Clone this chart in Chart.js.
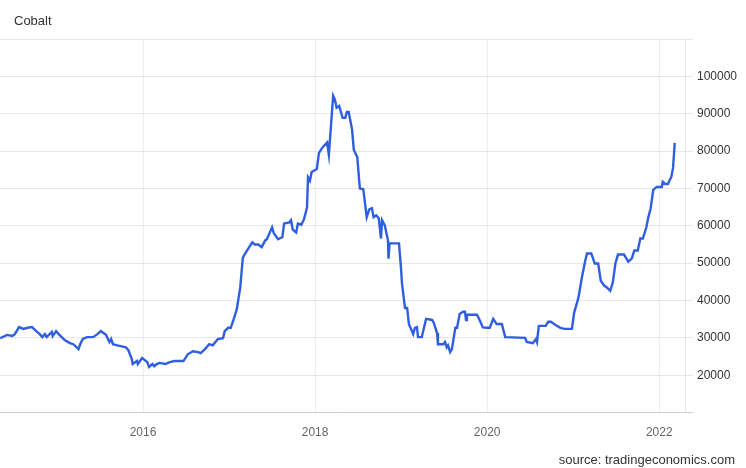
<!DOCTYPE html>
<html>
<head>
<meta charset="utf-8">
<script src="https://cdn.jsdelivr.net/npm/chart.js@4.4.1/dist/chart.umd.min.js"></script>
<style>
  html, body { margin: 0; padding: 0; background: #fff; }
  #wrap { position: relative; width: 746px; height: 468px; font-family: "Liberation Sans", Arial, sans-serif; }
  #title { position: absolute; left: 14px; top: 13px; font-size: 13px; color: #333; }
  #source { position: absolute; right: 11px; top: 452px; font-size: 13px; color: #333; }
</style>
</head>
<body>
<div id="wrap">
  <canvas id="chart" width="746" height="468"></canvas>
  <div id="title">Cobalt</div>
  <div id="source">source: tradingeconomics.com</div>
</div>
<script>
// cobalt price, USD/t; dates as decimal years
const dates = [
  2014.34, 2014.42, 2014.48, 2014.51, 2014.56, 2014.61, 2014.66, 2014.71, 2014.76, 2014.80,
  2014.83, 2014.86, 2014.88, 2014.94, 2014.95, 2014.99, 2015.02, 2015.09, 2015.15, 2015.19,
  2015.25, 2015.27, 2015.30, 2015.35, 2015.42, 2015.47, 2015.51, 2015.57, 2015.61, 2015.63,
  2015.65, 2015.70, 2015.74, 2015.80, 2015.83, 2015.87, 2015.88, 2015.93, 2015.94, 2015.99,
  2016.05, 2016.07, 2016.11, 2016.13, 2016.16, 2016.19, 2016.26, 2016.31, 2016.37, 2016.43,
  2016.47, 2016.52, 2016.58, 2016.64, 2016.67, 2016.72, 2016.77, 2016.81, 2016.87, 2016.93,
  2016.95, 2016.99, 2017.02, 2017.06, 2017.09, 2017.13, 2017.16, 2017.21, 2017.27, 2017.30,
  2017.34, 2017.38, 2017.42, 2017.44, 2017.50, 2017.52, 2017.57, 2017.62, 2017.64, 2017.70,
  2017.72, 2017.74, 2017.78, 2017.80, 2017.84, 2017.87, 2017.906, 2017.918, 2017.94, 2017.96,
  2018.02, 2018.045, 2018.09, 2018.14, 2018.16, 2018.21, 2018.23, 2018.25, 2018.28, 2018.32,
  2018.35, 2018.37, 2018.39, 2018.43, 2018.45, 2018.49, 2018.52, 2018.56, 2018.60, 2018.63,
  2018.66, 2018.68, 2018.71, 2018.74, 2018.766, 2018.778, 2018.81, 2018.847, 2018.853, 2018.865,
  2018.975, 2018.998, 2019.01, 2019.045, 2019.07, 2019.09, 2019.14, 2019.16, 2019.184, 2019.196,
  2019.24, 2019.29, 2019.36, 2019.38, 2019.417, 2019.428, 2019.49, 2019.51, 2019.53, 2019.545,
  2019.57, 2019.59, 2019.63, 2019.65, 2019.68, 2019.72, 2019.742, 2019.754, 2019.765, 2019.88,
  2019.90, 2019.95, 2020.00, 2020.03, 2020.07, 2020.11, 2020.17, 2020.21, 2020.44, 2020.46,
  2020.53, 2020.567, 2020.579, 2020.60, 2020.68, 2020.71, 2020.74, 2020.79, 2020.85, 2020.90,
  2020.985, 2021.01, 2021.06, 2021.10, 2021.14, 2021.16, 2021.21, 2021.25, 2021.29, 2021.32,
  2021.36, 2021.39, 2021.43, 2021.46, 2021.49, 2021.52, 2021.59, 2021.64, 2021.68, 2021.71,
  2021.75, 2021.78, 2021.81, 2021.85, 2021.87, 2021.90, 2021.93, 2021.97, 2022.03, 2022.04,
  2022.07, 2022.10, 2022.14, 2022.16, 2022.18
];
const prices = [
  29900, 30800, 30500, 31000, 32900, 32400, 32700, 32900, 31800, 31000,
  30200, 31000, 30200, 31600, 30500, 31800, 31000, 29400, 28600, 28300,
  27000, 28300, 29700, 30200, 30200, 31000, 31800, 30800, 28900, 29700,
  28300, 28000, 27800, 27500, 26700, 24300, 23000, 23800, 23000, 24600,
  23500, 22200, 23000, 22400, 23000, 23300, 23000, 23500, 23800, 23800,
  23800, 25600, 26400, 26200, 25900, 27000, 28300, 28000, 29700, 29900,
  31800, 32700, 32700, 35400, 37700, 43500, 51500, 53400, 55600, 55000,
  55000, 54300, 56100, 56400, 59600, 58000, 56400, 57000, 60600, 60900,
  61500, 59000, 58200, 60600, 60300, 61700, 64900, 73000, 72100, 74400,
  75200, 79500, 81100, 82300, 79000, 94800, 93800, 91600, 92100, 88900,
  88900, 90500, 90500, 85700, 80300, 78400, 70000, 69800, 62300, 64400,
  64700, 62300, 62800, 62000, 56600, 61500, 60100, 56100, 51200, 55300,
  55300, 48800, 44500, 38000, 38000, 33700, 31000, 32700, 32900, 30200,
  30200, 35100, 34800, 34000, 31300, 28300, 28300, 28900, 27500, 28000,
  26200, 27000, 32700, 32700, 36400, 37000, 37000, 34800, 36200, 36200,
  35400, 32800, 32700, 32700, 35100, 33700, 33700, 30200, 30000, 28900,
  28600, 29700, 28900, 33200, 33200, 34300, 34300, 33500, 32700, 32400,
  32400, 36700, 40700, 46100, 50700, 52600, 52600, 49900, 49900, 45300,
  44000, 43500, 42600, 44800, 49900, 52300, 52300, 50400, 51200, 53400,
  53400, 56600, 56600, 59600, 62000, 64700, 69600, 70400, 70400, 71800,
  71200, 71200, 73100, 75500, 82200
];
const yearTicks = [2016, 2018, 2020, 2022];
const yMin = 10000, yMax = 110000, yStep = 10000;

const font = { family: '"Liberation Sans", Arial, sans-serif', size: 12 };

new Chart(document.getElementById('chart'), {
  type: 'line',
  data: {
    datasets: [{
      data: dates.map((d, i) => ({ x: d, y: prices[i] })),
      borderColor: '#2f5fe0',
      borderWidth: 2.4,
      pointRadius: 0,
      tension: 0
    }]
  },
  options: {
    responsive: false,
    animation: false,
    layout: { padding: { top: 39, right: 9, bottom: 15, left: 0 } },
    plugins: { legend: { display: false }, tooltip: { enabled: false } },
    scales: {
      x: {
        type: 'linear',
        min: 2014.338,
        max: 2022.299,
        afterBuildTicks: (scale) => { scale.ticks = yearTicks.map(v => ({ value: v })); },
        ticks: { color: '#666', font: font, padding: 13, maxRotation: 0, callback: (v) => String(v) },
        grid: { color: '#eeeeee', drawTicks: false },
        border: { display: false }
      },
      y: {
        position: 'right',
        min: yMin,
        max: yMax,
        ticks: {
          stepSize: yStep,
          color: '#333',
          font: font,
          padding: 4,
          callback: (v) => (v === yMin || v === yMax) ? '' : String(v)
        },
        grid: {
          color: (ctx) => ctx.tick && ctx.tick.value === yMin ? '#cccccc' : '#e6e6e6',
          tickLength: 8
        },
        border: { display: true, color: '#e6e6e6' },
        afterFit: (scale) => { scale.width = 52; }
      }
    }
  }
});
</script>
</body>
</html>
